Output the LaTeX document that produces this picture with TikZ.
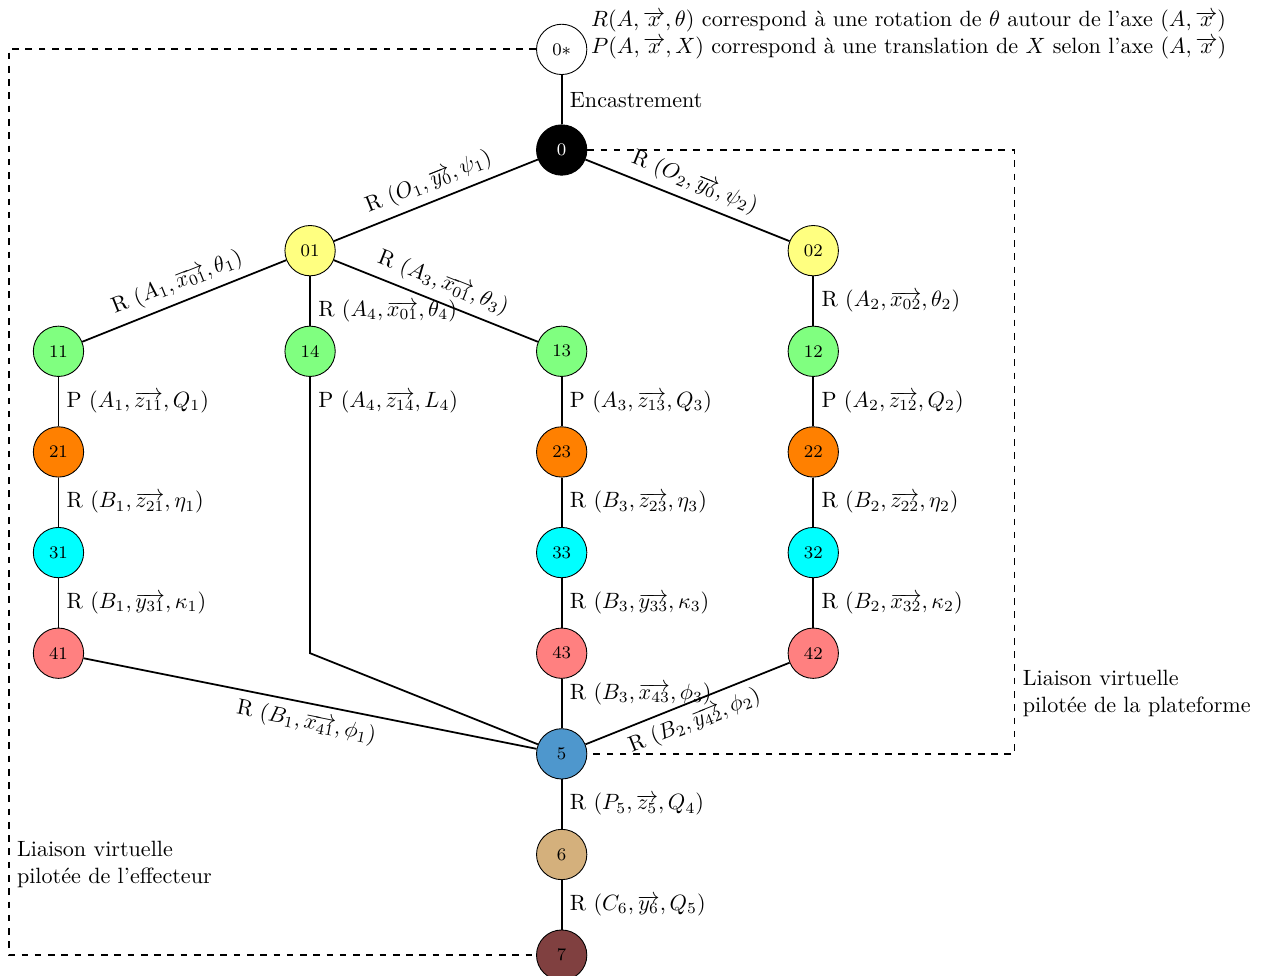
\documentclass[tikz,border=0pt]{standalone}
\usepackage{tikz}
\usetikzlibrary{positioning}

\definecolor{jaune0}{RGB}{255,255,128}
\definecolor{vert1}{RGB}{128,255,128}
\definecolor{orange2}{RGB}{255,128,0}
\definecolor{cyan3}{RGB}{0,255,255}
\definecolor{rose4}{RGB}{255,128,128}
\definecolor{bleu5}{RGB}{78,151,205}
\definecolor{beige6}{RGB}{212,176,124}
\definecolor{brun7}{RGB}{128,64,64}

\begin{document}
\begin{tikzpicture}[node distance={1.6cm and 4cm}, on grid, thick,
    main/.style = {draw, circle, thin, minimum size=0.8cm, inner sep=0pt, font=\footnotesize},
    virt/.style = {dashed, thick}]
        \useasboundingbox (-8.93,2.385) rectangle (11.15,-13.13);
        \node[main, fill=black, text=white] (0) {0};
        \node[main] (0e) [above=of 0] {0$*$};
        \node[main, fill=jaune0] (01) [below left=of 0] {01};
        \node[main, fill=jaune0] (02) [below right=of 0] {02};
        \node[main, fill=vert1] (11) [below left=of 01] {11};
        \node[main, fill=vert1] (14) [below=of 01] {14};
        \node[main, fill=vert1] (13) [below right=of 01] {13};
        \node[main, fill=vert1] (12) [below=of 02] {12};
        \node[main, fill=orange2] (21) [below=of 11] {21};
        \node[main, fill=orange2] (23) [below=of 13] {23};
        \node[main, fill=orange2] (22) [below=of 12] {22};
        \node[main, fill=cyan3] (31) [below=of 21] {31};
        \node[main, fill=cyan3] (33) [below=of 23] {33};
        \node[main, fill=cyan3] (32) [below=of 22] {32};
        \node[main, fill=rose4] (41) [below=of 31] {41};
        \node[main, fill=rose4] (43) [below=of 33] {43};
        \node[main, fill=rose4] (42) [below=of 32] {42};
        \node[main, fill=bleu5] (5) [below=of 43] {5};
        \node[main, fill=beige6] (6) [below=of 5] {6};
        \node[main, fill=brun7] (7) [below=of 6] {7};
        \path (14) ++(0,-4.8) coordinate (c14);
        \path (0e) ++(-8.79,0) coordinate (cg);
        \path (0) ++(7.2,0) coordinate (cd);

        \node[anchor=west, align=left, xshift=-2pt, yshift=0.24cm] (legende) at (0e.east)
            {$R(A,\overrightarrow{x},\theta)$ correspond à une rotation de $\theta$ autour de l'axe $(A,\overrightarrow{x})$\\
             $P(A,\overrightarrow{x},X)$ correspond à une translation de $X$ selon l'axe $(A,\overrightarrow{x})$};

        \draw  (0e) edge node[right] {Encastrement} (0);
        \draw  (0) edge node[above, sloped] {R $(O_1,\overrightarrow{y_0},\psi_1)$} (01);
        \draw  (0) edge node[above, sloped] {R $(O_2,\overrightarrow{y_0},\psi_2)$} (02);
        \draw  (01) edge node[above, sloped] {R $(A_1,\overrightarrow{x_{01}},\theta_1)$} (11);
        \draw  (01) edge node[right, pos=0.7] {R $(A_4,\overrightarrow{x_{01}},\theta_4)$} (14);
        \draw  (01) edge node[above, sloped] {R $(A_3,\overrightarrow{x_{01}},\theta_3)$} (13);
        \draw  (02) edge node[right] {R $(A_2,\overrightarrow{x_{02}},\theta_2)$} (12);
        \draw  (11) edge node[right] {P $(A_1,\overrightarrow{z_{11}},Q_1)$} (21);
        \draw  (13) edge node[right] {P $(A_3,\overrightarrow{z_{13}},Q_3)$} (23);
        \draw  (12) edge node[right] {P $(A_2,\overrightarrow{z_{12}},Q_2)$} (22);
        \draw  (21) edge node[right] {R $(B_1,\overrightarrow{z_{21}},\eta_1)$} (31);
        \draw  (23) edge node[right] {R $(B_3,\overrightarrow{z_{23}},\eta_3)$} (33);
        \draw  (22) edge node[right] {R $(B_2,\overrightarrow{z_{22}},\eta_2)$} (32);
        \draw  (31) edge node[right] {R $(B_1,\overrightarrow{y_{31}},\kappa_1)$} (41);
        \draw  (33) edge node[right] {R $(B_3,\overrightarrow{y_{33}},\kappa_3)$} (43);
        \draw  (32) edge node[right] {R $(B_2,\overrightarrow{x_{32}},\kappa_2)$} (42);
        \draw  (14) -- node[right, pos=0.09] {P $(A_4,\overrightarrow{z_{14}},L_4)$} (c14) -- (5);
        \draw  (41) edge node[below, sloped] {R $(B_1,\overrightarrow{x_{41}},\phi_1)$} (5);
        \draw  (43) edge node[right, pos=0.3] {R $(B_3,\overrightarrow{x_{43}},\phi_3)$} (5);
        \draw  (42) edge node[below, sloped] {R $(B_2,\overrightarrow{y_{42}},\phi_2)$} (5);
        \draw  (5) edge node[right] {R $(P_5,\overrightarrow{z_5},Q_4)$} (6);
        \draw  (6) edge node[right] {R $(C_6,\overrightarrow{y_6},Q_5)$} (7);

        % liaisons virtuelles
        \draw[virt] (0e) -- (cg) |- node[right, pos=0.45, align=left] {Liaison virtuelle\\pilotée de l'effecteur} (7);
        \draw[virt] (0) -- (cd) |- node[right, pos=0.45, align=left] {Liaison virtuelle\\pilotée de la plateforme} (5);
    \end{tikzpicture}
\end{document}
